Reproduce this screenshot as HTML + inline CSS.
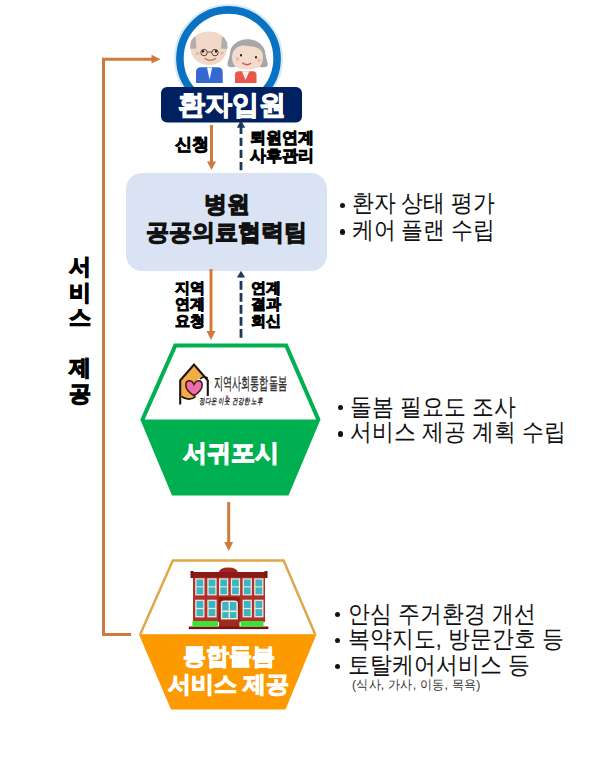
<!DOCTYPE html>
<html><head><meta charset="utf-8">
<style>
html,body{margin:0;padding:0;width:605px;height:768px;overflow:hidden;background:#fff;}
body{position:relative;font-family:"Liberation Sans",sans-serif;color:#000;}
.a{position:absolute;}
.t{position:absolute;white-space:nowrap;line-height:1;}
.b{font-weight:bold;}
.hv{font-weight:bold;-webkit-text-stroke:0.9px currentColor;}
</style></head><body>

<svg class="a" style="left:0;top:0" width="605" height="768">
  <!-- left orange loop line -->
  <path d="M103.5 636 L103.5 59.2 L153 59.2" fill="none" stroke="#cf7940" stroke-width="3"/>
  <path d="M131 634.5 L103.5 634.5" fill="none" stroke="#cf7940" stroke-width="3"/>
  <path d="M151.5 54.8 L160.5 59.2 L151.5 63.6 Z" fill="#cf7940"/>

  <!-- circle -->
  <circle cx="228.5" cy="58.5" r="53.5" fill="none" stroke="#d9e9f4" stroke-width="2"/>
  <circle cx="228.5" cy="58.5" r="48.6" fill="#fff" stroke="#0a72c2" stroke-width="7.6"/>

  <!-- grandpa -->
  <path d="M196 83 L196 72 Q196 67.3 201 67.3 L217.5 67.3 Q222.7 67.3 222.7 72 L222.7 83 Z" fill="#3568d0"/>
  <path d="M207 67.5 L209.6 79.5 L212.2 67.5 Z" fill="#f4f8ff"/>
  <path d="M209 31.4 C219 31.4 227.3 37 227.3 47 C227.3 58 219 65 209 65 C199 65 190.3 58 190.3 47 C190.3 37 199 31.4 209 31.4 Z" fill="#f1d8c8"/>
  <path d="M190.5 49 C189.5 43 191.5 38.5 195.5 36.5 L196.5 48.5 Z" fill="#b3aeab"/>
  <path d="M227.2 49 C228.2 43 226.2 38.5 222 36.5 L221 48.5 Z" fill="#b3aeab"/>
  <circle cx="204" cy="52.6" r="3.2" fill="none" stroke="#5e4034" stroke-width="1"/>
  <circle cx="215" cy="52.6" r="3.2" fill="none" stroke="#5e4034" stroke-width="1"/><path d="M207.2 52 L211.8 52" stroke="#5e4034" stroke-width="0.9"/>
  <ellipse cx="203" cy="51.2" rx="1.1" ry="1.5" fill="#2a1a14"/>
  <ellipse cx="216" cy="51.2" rx="1.1" ry="1.5" fill="#2a1a14"/>
  <path d="M204.6 58.2 Q210.3 62.5 216 58.2" fill="none" stroke="#c4705e" stroke-width="1.4"/>
  <circle cx="197.5" cy="53.5" r="1.8" fill="#eeb4a8"/>
  <circle cx="222" cy="53" r="1.8" fill="#eeb4a8"/>

  <!-- grandma -->
  <path d="M235 83 L235 74.5 Q235 71.3 239 71.3 L252.5 71.3 Q256.5 71.3 256.5 74.5 L256.5 83 Z" fill="#e7584a"/>
  <path d="M241.9 71.3 L245.6 80 L249.4 71.3 Z" fill="#fbf3ee"/>
  <path d="M247.5 39.2 C258 39.2 265 46 265.5 54 C266 59 268.5 63 267.5 66 C265 68 261 67.5 258 66 L237 66 C233.5 67.5 229.5 68 227.5 65.5 C227 62 229.5 58.5 229.8 54 C230.2 46 237 39.2 247.5 39.2 Z" fill="#a9a7a6"/>
  <path d="M247.5 44 C241 44 236 46.5 233.5 51 C231.5 55 231.5 61 234 65 C237 68.5 242 69.5 247.5 69.5 C253 69.5 258 68.5 261 65 C263.5 61 263.5 55 261.5 51 C259 46.5 254 44 247.5 44 Z" fill="#f3dccd"/>
  <path d="M233.5 51 C237 46 242 44.5 248 46 C253 47 257 46 261.5 51 C259 45 254 42.5 247.5 42.5 C241 42.5 236 45 233.5 51 Z" fill="#a9a7a6"/>
  <ellipse cx="241" cy="55.2" rx="1" ry="1.3" fill="#2a1a14"/>
  <ellipse cx="256" cy="57.3" rx="1" ry="1.3" fill="#2a1a14"/>
  <path d="M242.3 62.6 Q247 66.5 251.2 63" fill="none" stroke="#de5a4e" stroke-width="1.4"/>
  <circle cx="237.5" cy="59" r="1.8" fill="#f0b6ac"/>
  <circle cx="259" cy="60.5" r="1.8" fill="#f0b6ac"/>

  <!-- navy -->
  <rect x="161" y="87" width="141" height="35.5" rx="6" fill="#002060"/>

  <!-- arrows 1 -->
  <path d="M211.5 125 L211.5 162" stroke="#cf7a3c" stroke-width="3"/>
  <path d="M207 161.5 L216 161.5 L211.5 170 Z" fill="#cf7a3c"/>
  <path d="M241 170.2 L241 126" stroke="#1a3a5c" stroke-width="2.8" stroke-dasharray="8.3 3.8"/>
  <path d="M236.8 127.8 L245.2 127.8 L241 120.3 Z" fill="#1a3a5c"/>

  <!-- hospital -->
  <rect x="126" y="173" width="201" height="98" rx="16" fill="#dae3f3"/>

  <!-- arrows 2 -->
  <path d="M211 269 L211 332" stroke="#cf7a3c" stroke-width="3"/>
  <path d="M206.5 331 L215.5 331 L211 340 Z" fill="#cf7a3c"/>
  <path d="M241 337.7 L241 277.5" stroke="#1a3a5c" stroke-width="2.8" stroke-dasharray="8.8 3.2"/>
  <path d="M236.9 277.6 L245.1 277.6 L241 270.8 Z" fill="#1a3a5c"/>

  <!-- green hexagon -->
  <path d="M174 343.5 L287.5 343.5 L320.5 419.5 L288.5 495.5 L172 495.5 L140.3 419.5 Z" fill="#00b050"/>
  <path d="M176.6 347.5 L284.9 347.5 L316.1 419.5 L144.7 419.5 Z" fill="#fff"/>

  <!-- arrow 3 -->
  <path d="M228.7 502 L228.7 543" stroke="#cf7940" stroke-width="3"/>
  <path d="M224.2 542 L233.2 542 L228.7 551 Z" fill="#cf7940"/>

  <!-- orange hexagon -->
  <path d="M172 559.3 L284.4 559.3 L316.5 634.3 L138.9 634.3 Z" fill="#dfa64a"/>
  <path d="M173.6 561.8 L282.8 561.8 L313.8 634.3 L141.6 634.3 Z" fill="#fff"/>
  <path d="M138.9 634.3 L316.5 634.3 L285.5 709.4 L171 709.4 Z" fill="#fc9a00"/>

  <!-- house logo -->
  <path d="M181 381 L194 365.5 L204 377 C199 377.5 196 380 194.5 384 L196 398 C190 399.5 184 398.5 181 396 Z" fill="#f2ad48"/>
  <path d="M180.2 404.5 L180.2 380.5 L194 364.5 L207.8 380.5 L207.8 396" fill="none" stroke="#1e1410" stroke-width="2.1" stroke-linejoin="miter"/>
  <path d="M194 384.5 C192 379.5 186 379 185.8 385 C185.8 390 190.5 393.5 194 395.5 C197.5 393.5 202.2 390 202.2 385 C202 379 196 379.5 194 384.5 Z" fill="#ef6cab" stroke="#3a1a1a" stroke-width="1.5"/>
  <path d="M181.5 396.5 C186 400 192 400 195.5 396.5" fill="none" stroke="#1e1410" stroke-width="1.6"/>
  <path d="M200 379 C202 377 205 376.5 207.8 378" fill="none" stroke="#1e1410" stroke-width="1.6"/>
  <circle cx="227" cy="396.5" r="1.3" fill="#e64b8a"/>

  <!-- building -->
  <path d="M218.7 573 Q219 567.5 228.3 567.5 Q237.6 567.5 237.9 573 Z" fill="#a4261f"/>
  <rect x="193" y="576" width="72" height="46" fill="#b3302a"/>
  <rect x="191.2" y="572" width="75.4" height="5.6" fill="#8c1a16"/>
  <rect x="190.5" y="571" width="3" height="7" fill="#7a1512"/>
  <rect x="264.5" y="571" width="3" height="7" fill="#7a1512"/>
  <rect x="218.5" y="597" width="21" height="25" fill="#8c1a16"/>
  <rect x="195.2" y="578.3" width="9.3" height="17.1" fill="#efe9d6"/>
  <rect x="196.5" y="579.5" width="6.7" height="6.8" fill="#3ab5c6"/>
  <rect x="196.5" y="587.4" width="6.7" height="6.8" fill="#3ab5c6"/>
  <rect x="195.2" y="599.7" width="9.3" height="17.7" fill="#efe9d6"/>
  <rect x="196.5" y="600.9" width="6.7" height="7.0" fill="#3ab5c6"/>
  <rect x="196.5" y="609.1" width="6.7" height="7.0" fill="#3ab5c6"/>
  <rect x="207.3" y="578.3" width="9.3" height="17.1" fill="#efe9d6"/>
  <rect x="208.6" y="579.5" width="6.7" height="6.8" fill="#3ab5c6"/>
  <rect x="208.6" y="587.4" width="6.7" height="6.8" fill="#3ab5c6"/>
  <rect x="207.3" y="599.7" width="9.3" height="17.7" fill="#efe9d6"/>
  <rect x="208.6" y="600.9" width="6.7" height="7.0" fill="#3ab5c6"/>
  <rect x="208.6" y="609.1" width="6.7" height="7.0" fill="#3ab5c6"/>
  <rect x="219.0" y="578.3" width="9.3" height="17.1" fill="#efe9d6"/>
  <rect x="220.3" y="579.5" width="6.7" height="6.8" fill="#3ab5c6"/>
  <rect x="220.3" y="587.4" width="6.7" height="6.8" fill="#3ab5c6"/>
  <rect x="230.8" y="578.3" width="9.3" height="17.1" fill="#efe9d6"/>
  <rect x="232.1" y="579.5" width="6.7" height="6.8" fill="#3ab5c6"/>
  <rect x="232.1" y="587.4" width="6.7" height="6.8" fill="#3ab5c6"/>
  <rect x="242.6" y="578.3" width="9.3" height="17.1" fill="#efe9d6"/>
  <rect x="243.9" y="579.5" width="6.7" height="6.8" fill="#3ab5c6"/>
  <rect x="243.9" y="587.4" width="6.7" height="6.8" fill="#3ab5c6"/>
  <rect x="242.6" y="599.7" width="9.3" height="17.7" fill="#efe9d6"/>
  <rect x="243.9" y="600.9" width="6.7" height="7.0" fill="#3ab5c6"/>
  <rect x="243.9" y="609.1" width="6.7" height="7.0" fill="#3ab5c6"/>
  <rect x="254.2" y="578.3" width="9.3" height="17.1" fill="#efe9d6"/>
  <rect x="255.5" y="579.5" width="6.7" height="6.8" fill="#3ab5c6"/>
  <rect x="255.5" y="587.4" width="6.7" height="6.8" fill="#3ab5c6"/>
  <rect x="254.2" y="599.7" width="9.3" height="17.7" fill="#efe9d6"/>
  <rect x="255.5" y="600.9" width="6.7" height="7.0" fill="#3ab5c6"/>
  <rect x="255.5" y="609.1" width="6.7" height="7.0" fill="#3ab5c6"/>
  <path d="M220.8 619.6 L220.8 603 Q220.8 600.4 224 600.4 L234.7 600.4 Q237.9 600.4 237.9 603 L237.9 619.6 Z" fill="#efe9d6"/>
  <rect x="222.3" y="602" width="14.1" height="16" fill="#3ab5c6"/>
  <rect x="228.6" y="602" width="1.4" height="16" fill="#efe9d6"/>
  <rect x="222.3" y="610.5" width="14.1" height="1.6" fill="#efe9d6"/>
  <rect x="219" y="620" width="20.5" height="7" fill="#a02a22"/>
  <rect x="188.8" y="626.5" width="79.6" height="2.6" fill="#7a1512"/>
  <rect x="192.4" y="621" width="25.6" height="5.7" fill="#3ee03a"/>
  <rect x="240.7" y="621" width="22.8" height="5.7" fill="#3ee03a"/>
</svg>

<div class="t hv" style="left:161.5px;top:91.5px;width:141px;text-align:center;color:#fff;font-size:26.5px;-webkit-text-stroke:1.1px #fff;">환자입원</div>
<div class="t hv" style="left:175px;top:136px;font-size:16.5px;">신청</div>
<div class="t hv" style="left:250px;top:129px;font-size:16px;line-height:17.5px;">퇴원연계<br>사후관리</div>

<div class="t hv" style="left:126px;top:190px;width:201px;text-align:center;font-size:23px;line-height:28px;color:#111;-webkit-text-stroke:1.1px #111;">병원<br>공공의료협력팀</div>
<div class="a" style="left:340.0px;top:202.9px;width:5.2px;height:5.2px;border-radius:50%;background:#111;"></div>
<div class="t" style="left:351.5px;top:191.5px;font-size:21.5px;color:#111;transform:scaleY(1.1);transform-origin:0 0;">환자 상태 평가</div>
<div class="a" style="left:340.0px;top:229.4px;width:5.2px;height:5.2px;border-radius:50%;background:#111;"></div>
<div class="t" style="left:351.5px;top:218.5px;font-size:21.5px;color:#111;transform:scaleY(1.1);transform-origin:0 0;">케어 플랜 수립</div>

<div class="t hv" style="left:175px;top:280px;font-size:15px;line-height:16.3px;">지역<br>연계<br>요청</div>
<div class="t hv" style="left:251px;top:280px;font-size:15px;line-height:16.3px;">연계<br>결과<br>회신</div>

<div class="t" style="left:213.5px;top:375px;font-size:17px;color:#2a2a2a;transform:scaleX(0.535);transform-origin:0 0;-webkit-text-stroke:0.3px #2a2a2a;">지역사회통합돌봄</div>
<div class="t" style="left:199px;top:397px;font-size:8.5px;color:#222;font-style:italic;transform:scaleX(0.66);transform-origin:0 0;-webkit-text-stroke:0.3px #222;letter-spacing:0px">정다운 이웃 건강한 노후</div>

<div class="t hv" style="left:140.5px;top:441.5px;width:180px;text-align:center;color:#fff;font-size:23.5px;-webkit-text-stroke:1.2px #fff;">서귀포시</div>
<div class="a" style="left:337.8px;top:405.3px;width:5.2px;height:5.2px;border-radius:50%;background:#111;"></div>
<div class="t" style="left:350.0px;top:396.0px;font-size:21.5px;color:#111;transform:scaleY(1.1);transform-origin:0 0;">돌봄 필요도 조사</div>
<div class="a" style="left:337.8px;top:431.4px;width:5.2px;height:5.2px;border-radius:50%;background:#111;"></div>
<div class="t" style="left:350.0px;top:421.1px;font-size:21.5px;color:#111;transform:scaleY(1.1);transform-origin:0 0;">서비스 제공 계획 수립</div>

<div class="t hv" style="left:137.5px;top:642px;width:182px;text-align:center;color:#fff;font-size:23px;line-height:28px;-webkit-text-stroke:1.1px #fff;">통합돌봄<br>서비스 제공</div>
<div class="a" style="left:334.7px;top:612.0px;width:5.2px;height:5.2px;border-radius:50%;background:#111;"></div>
<div class="t" style="left:347.8px;top:602.5px;font-size:21.5px;color:#111;transform:scaleY(1.1);transform-origin:0 0;">안심 주거환경 개선</div>
<div class="a" style="left:334.7px;top:637.9px;width:5.2px;height:5.2px;border-radius:50%;background:#111;"></div>
<div class="t" style="left:347.8px;top:627.7px;font-size:21.5px;color:#111;transform:scaleY(1.1);transform-origin:0 0;">복약지도, 방문간호 등</div>
<div class="a" style="left:334.7px;top:663.8px;width:5.2px;height:5.2px;border-radius:50%;background:#111;"></div>
<div class="t" style="left:347.8px;top:654.0px;font-size:21.5px;color:#111;transform:scaleY(1.1);transform-origin:0 0;">토탈케어서비스 등</div>
<div class="t" style="left:352px;top:678.3px;font-size:12.3px;letter-spacing:0.25px;color:#333;transform:scaleY(1.08);transform-origin:0 0;">(식사, 가사, 이동, 목욕)</div>

<div class="t hv" style="left:67.5px;top:254px;width:24px;font-size:22px;line-height:25.5px;text-align:center;-webkit-text-stroke:1.2px #000;">서<br>비<br>스</div>
<div class="t hv" style="left:67.5px;top:355px;width:24px;font-size:22px;line-height:25.5px;text-align:center;-webkit-text-stroke:1.2px #000;">제<br>공</div>

</body></html>
